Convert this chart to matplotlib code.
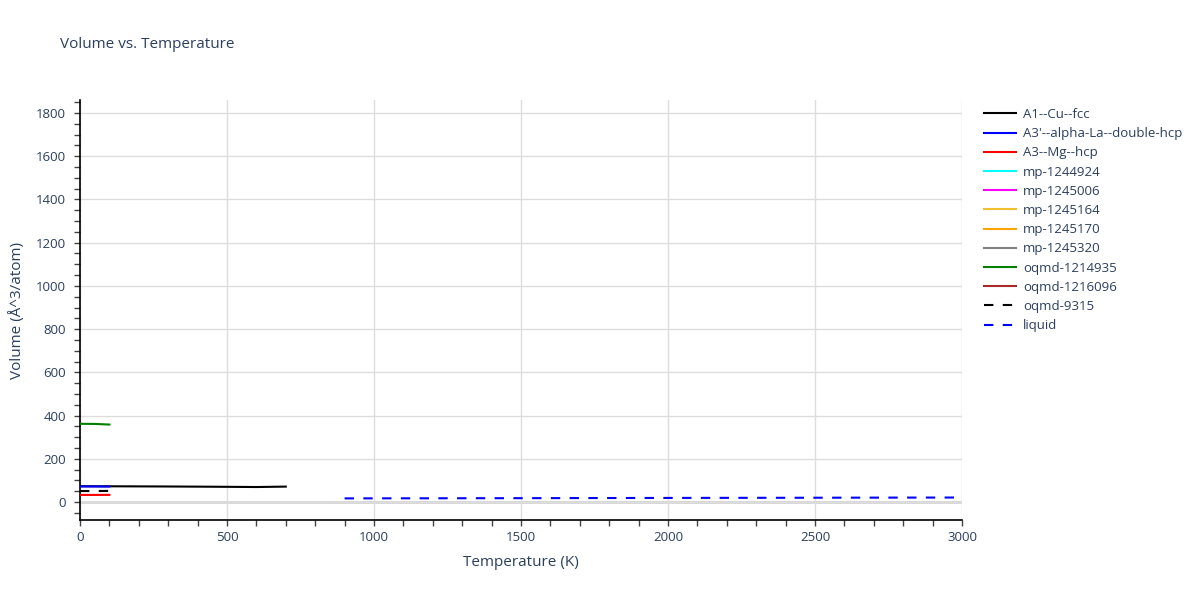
import matplotlib
matplotlib.use("Agg")
import matplotlib.pyplot as plt
from matplotlib.ticker import MultipleLocator
from matplotlib.lines import Line2D

plt.rcParams['font.family'] = ['Open Sans', 'DejaVu Sans']

# Data
cu_fcc_T = [0, 100, 200, 300, 400, 500, 600, 700]
cu_fcc_V = [73.5, 73.0, 72.5, 72.0, 71.3, 70.5, 69.5, 71.5]

la_dhcp_T = [0, 50, 100]
la_dhcp_V = [72.0, 72.0, 71.8]

mg_hcp_T = [0, 50, 100]
mg_hcp_V = [33.0, 33.0, 33.2]

oqmd1214935_T = [0, 50, 100]
oqmd1214935_V = [362.0, 361.5, 358.5]

oqmd9315_T = [0, 50, 100]
oqmd9315_V = [51.0, 51.0, 51.5]

liquid_T = [900, 1200, 1500, 1800, 2100, 2400, 2700, 3000]
liquid_V = [17.0, 17.5, 18.0, 18.7, 19.3, 19.8, 20.5, 21.0]

legend_labels = ["A1--Cu--fcc", "A3'--alpha-La--double-hcp", "A3--Mg--hcp",
                 "mp-1244924", "mp-1245006", "mp-1245164", "mp-1245170",
                 "mp-1245320", "oqmd-1214935", "oqmd-1216096", "oqmd-9315", "liquid"]
legend_colors = ["black", "blue", "red", "cyan", "magenta", "#f0c030", "orange",
                 "gray", "green", "brown", "black", "blue"]
legend_dashed = [False] * 10 + [True, True]

LW = 1.5
DASH = (0, (4.5, 4.5))

fig = plt.figure(figsize=(12, 6), dpi=100)
ax = fig.add_axes([80/1200, 1 - 520/600, (962-80)/1200, 420/600])

txt = '#2a3f5f'
ax.axhline(0, color='#cccccc', lw=1.8, zorder=1)

ax.plot(cu_fcc_T, cu_fcc_V, color='black', lw=LW, zorder=3)
ax.plot(la_dhcp_T, la_dhcp_V, color='blue', lw=LW, zorder=3)
ax.plot(mg_hcp_T, mg_hcp_V, color='red', lw=LW, zorder=3)
ax.plot(oqmd1214935_T, oqmd1214935_V, color='green', lw=LW, zorder=3)
ax.plot(oqmd9315_T, oqmd9315_V, color='black', lw=LW, ls=DASH, zorder=3)
ax.plot(liquid_T, liquid_V, color='blue', lw=LW, ls=DASH, zorder=3)

ax.set_xlim(0, 3000)
ax.set_ylim(-83, 1860)
ax.xaxis.set_major_locator(MultipleLocator(500))
ax.xaxis.set_minor_locator(MultipleLocator(100))
ax.yaxis.set_major_locator(MultipleLocator(200))
ax.yaxis.set_minor_locator(MultipleLocator(50))
ax.grid(True, which='major', color='#dddddd', lw=1, zorder=0)

for s in ['top', 'right']:
    ax.spines[s].set_visible(False)
for s in ['left', 'bottom']:
    ax.spines[s].set_color('black')
    ax.spines[s].set_linewidth(1.2)

ax.tick_params(axis='both', which='both', direction='out', length=4, width=1,
               color='#444444', labelsize=9.5, labelcolor=txt)
ax.tick_params(axis='x', which='both', pad=4)
ax.tick_params(axis='y', which='both', pad=6)

ax.set_xlabel('Temperature (K)', fontsize=11, color=txt, labelpad=8)
ax.set_ylabel('Volume (Å^3/atom)', fontsize=11, color=txt, labelpad=8)

fig.text(60/1200, 1 - 45/600, 'Volume vs. Temperature', fontsize=11, color=txt, va='center')

handles = [Line2D([0], [0], color=c, lw=LW, ls=(DASH if d else '-'))
           for c, d in zip(legend_colors, legend_dashed)]
leg = fig.legend(handles, legend_labels, loc='upper left', bbox_to_anchor=(984/1200, 1 - 108/600),
                 frameon=False, fontsize=9.5, labelcolor=txt, handlelength=2.4,
                 handletextpad=0.55, labelspacing=0.47, borderaxespad=0, borderpad=0)

fig.savefig('out.png', dpi=100)
